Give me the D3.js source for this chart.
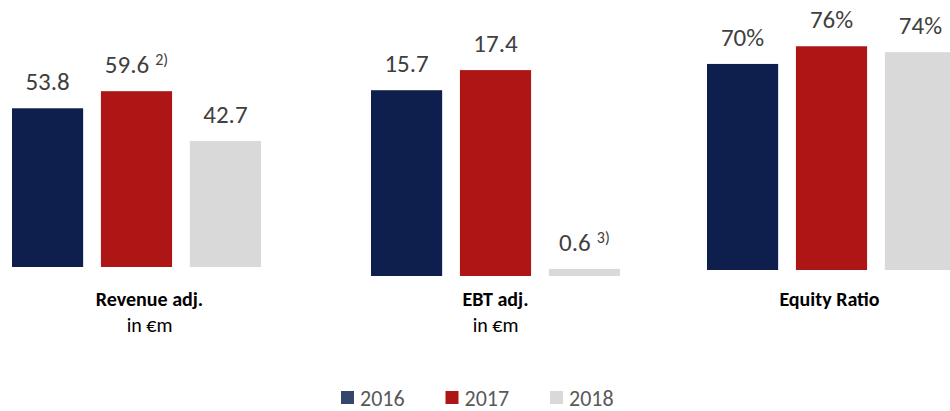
<!DOCTYPE html>
<html>
<head>
<meta charset="utf-8">
<script src="https://cdn.jsdelivr.net/npm/d3@7"></script>
<style>
  body { margin: 0; background: #fff; }
  svg { display: block; font-family: Calibri, Carlito, Lato, sans-serif; }
</style>
</head>
<body>
<div id="chart"></div>
<script>
// Data
const years = ['2016', '2017', '2018'];
const metrics = ['Revenue adj.', 'EBT adj.', 'Equity Ratio'];
const units = ['in €m', 'in €m', ''];
const revenue = [53.8, 59.6, 42.7];
const ebt = [15.7, 17.4, 0.6];
const equity = [70, 76, 74];
const revenueNotes = ['', '2)', ''];
const ebtNotes = ['', '', '3)'];
const equityNotes = ['', '', ''];

const series = [revenue, ebt, equity];
const notes = [revenueNotes, ebtNotes, equityNotes];
const formats = [d3.format('.1f'), d3.format('.1f'), (v) => `${v}%`];

const colors = ['#0e1f4d', '#ae1515', '#d9d9d9'];
const legendColors = ['#34476b', '#ae1515', '#d9d9d9'];

// Canvas
const width = 950;
const height = 411;

const svg = d3.select('#chart')
  .append('svg')
  .attr('width', width)
  .attr('height', height);

// Panel layout: left edge, baseline, domain max, pixel height
const panelLeft = [12, 371, 707];
const panelBase = [267, 276, 270];
const panelMax = [60, 18, 80];
const panelHeight = [177, 213, 235.5];
const titleShift = [13, 0, -2];

metrics.forEach((metric, i) => {
  const values = series[i];
  const data = years.map((year, j) => ({ year, value: values[j], note: notes[i][j] }));

  const xScale = d3.scaleBand()
    .domain(years)
    .range([panelLeft[i], panelLeft[i] + 249])
    .paddingInner(0.2)
    .paddingOuter(0);

  const yScale = d3.scaleLinear()
    .domain([0, panelMax[i]])
    .range([panelBase[i], panelBase[i] - panelHeight[i]]);

  const g = svg.append('g');

  // Bars
  g.selectAll('rect')
    .data(data).enter()
    .append('rect')
    .attr('x', (d) => xScale(d.year))
    .attr('y', (d) => yScale(d.value))
    .attr('width', xScale.bandwidth())
    .attr('height', (d) => yScale(0) - yScale(d.value))
    .attr('fill', (d, j) => colors[j]);

  // Value labels (with footnote superscripts)
  const labels = g.selectAll('text.value')
    .data(data).enter()
    .append('text')
    .attr('class', 'value')
    .attr('x', (d) => xScale(d.year) + xScale.bandwidth() / 2)
    .attr('y', (d) => yScale(d.value) - 18)
    .attr('text-anchor', 'middle')
    .attr('font-size', 25)
    .attr('fill', '#404040');

  labels.append('tspan').text((d) => formats[i](d.value));
  labels.filter((d) => d.note)
    .append('tspan')
    .attr('dx', 6)
    .attr('dy', -8)
    .attr('font-size', 16)
    .text((d) => d.note);

  // Panel title
  const cx = xScale(years[1]) + xScale.bandwidth() / 2 + titleShift[i];
  g.append('text')
    .attr('x', cx)
    .attr('y', 306)
    .attr('text-anchor', 'middle')
    .attr('font-size', 20)
    .attr('font-weight', 'bold')
    .attr('fill', '#000')
    .text(metric);

  if (units[i]) {
    g.append('text')
      .attr('x', cx)
      .attr('y', 332)
      .attr('text-anchor', 'middle')
      .attr('font-size', 20)
      .attr('fill', '#000')
      .text(units[i]);
  }
});

// Legend
const legendScale = d3.scaleBand().domain(years).range([341, 341 + 3 * 104.5]);

const legend = svg.selectAll('g.legend')
  .data(years).enter()
  .append('g')
  .attr('class', 'legend')
  .attr('transform', (d) => `translate(${legendScale(d)}, 391)`);

legend.append('rect')
  .attr('width', 13)
  .attr('height', 13)
  .attr('fill', (d, j) => legendColors[j]);

legend.append('text')
  .attr('x', 19)
  .attr('y', 15)
  .attr('font-size', 22)
  .attr('fill', '#595959')
  .text((d) => d);
</script>
</body>
</html>
